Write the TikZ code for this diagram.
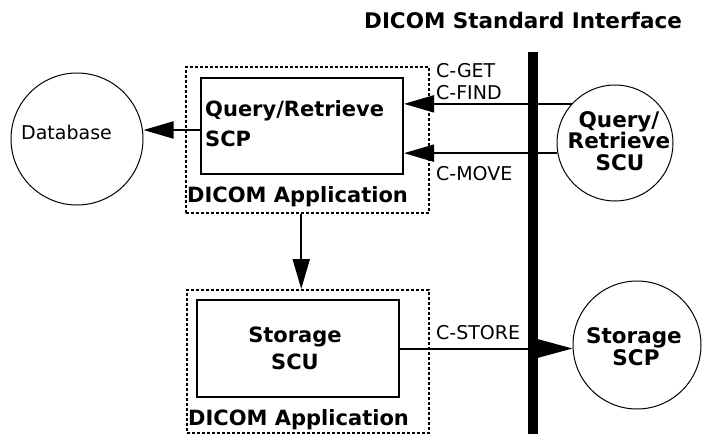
\documentclass[tikz,border=0pt]{standalone}
\usepackage{fontspec}
\setmainfont{DejaVu Sans}
\usetikzlibrary{arrows.meta}
\begin{document}
\begin{tikzpicture}[x=1pt,y=-1pt,
  conn/.style={line width=2pt},
  tipbig/.style={-{Triangle[length=30pt,width=17pt]}},
  tipstore/.style={-{Triangle[length=38pt,width=20pt]}},
  appbox/.style={draw,line width=1.5pt,dash pattern=on 3pt off 2pt,inner sep=0pt,anchor=north west},
  svcbox/.style={draw,line width=2pt,inner sep=0pt,anchor=north west},
  circ/.style={draw,circle,line width=1pt,inner sep=0pt},
  bigb/.style={font=\bfseries\fontsize{21}{24}\selectfont,inner sep=0pt,anchor=base},
  circb/.style={font=\bfseries\fontsize{21.5}{24}\selectfont,inner sep=0pt,anchor=base},
  small/.style={font=\fontsize{19}{21}\selectfont,inner sep=0pt,anchor=base west},
]
\useasboundingbox (0,0) rectangle (713,434);
% title
\node[font=\bfseries\fontsize{21.5}{24}\selectfont,inner sep=0pt,anchor=base] (title) at (523,28) {DICOM Standard Interface};
% interface bar
\coordinate (bartop) at (533,52);
\coordinate (barbot) at (533,434);
\draw[line width=10pt] (bartop) -- (barbot);
% database
\node[circ,minimum size=132pt] (db) at (77,139) {};
\node[small,anchor=base] (dbtext) at (66.5,139) {Database};
% application 1
\node[appbox,minimum width=243pt,minimum height=146pt] (app1) at (185,66) {};
\node[svcbox,minimum width=202pt,minimum height=96pt] (qr) at (200,77) {};
\node[bigb,anchor=base west] (qrt1) at (205,116.5) {Query/Retrieve};
\node[bigb,anchor=base west] (qrt2) at (205,146.5) {SCP};
\node[bigb,anchor=base west] (app1t) at (187,202) {DICOM Application};
% application 2
\node[appbox,minimum width=242pt,minimum height=143pt] (app2) at (186,289) {};
\node[svcbox,minimum width=202pt,minimum height=97pt] (sscu) at (196,299) {};
\node[bigb] (sscut1) at (295,342) {Storage};
\node[bigb] (sscut2) at (295,369) {SCU};
\node[bigb,anchor=base west] (app2t) at (188,425) {DICOM Application};
% Q/R SCU
\node[circ,minimum size=116pt] (qrscu) at (615,143) {};
\node[circb] (qrscut1) at (619,127) {Query/};
\node[circb] (qrscut2) at (619,148) {Retrieve};
\node[circb] (qrscut3) at (620,170) {SCU};
% Storage SCP
\node[circ,minimum size=128pt] (sscp) at (637,345) {};
\node[circb] (sscpt1) at (634,343) {Storage};
\node[circb] (sscpt2) at (636,365) {SCP};
% labels
\node[small] (lget) at (436,77) {C-GET};
\node[small] (lfind) at (436,99) {C-FIND};
\node[small] (lmove) at (436,180) {C-MOVE};
\node[small] (lstore) at (436,339) {C-STORE};
% connectors
\draw[conn,tipbig] ([yshift=-4pt]qr.west) -- ([yshift=-4pt]qr.west -| db.east);
\draw[conn,tipbig] (qrscu.138) -- (qrscu.138 -| qr.east);
\draw[conn,tipbig] (qrscu.190) -- (qrscu.190 -| qr.east);
\draw[conn,tipbig] ([xshift=-6pt]app1.south) -- ([xshift=-6pt]app1.south |- app2.north);
\draw[conn,tipstore] (sscu.east) -- (sscu.east -| sscp.west);
\end{tikzpicture}
\end{document}
